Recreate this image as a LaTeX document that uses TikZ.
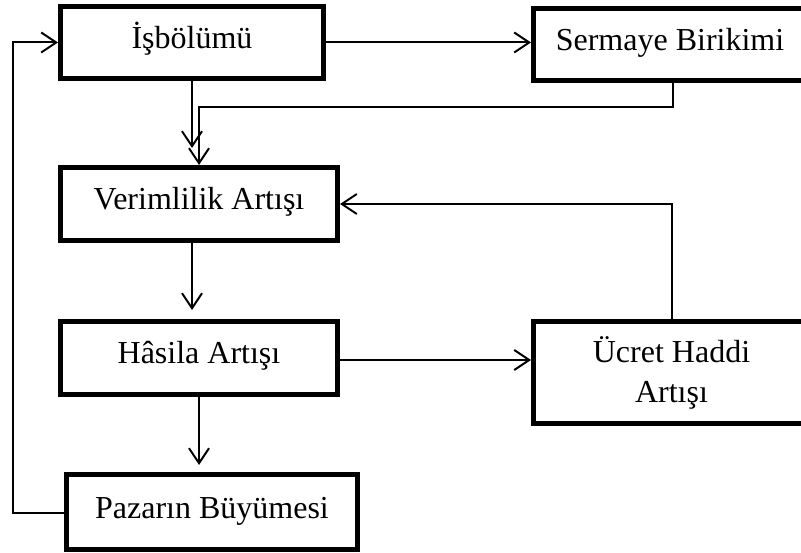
\documentclass[tikz,border=0pt]{standalone}
\usepackage{fontspec}
\setmainfont{Liberation Serif}
\usetikzlibrary{arrows.meta}
\begin{document}
\begin{tikzpicture}[x=1pt,y=-1pt,
  box/.style={draw, line width=5pt, inner sep=0pt, font=\fontsize{32}{40}\selectfont, align=center},
  one/.style={text height=18pt, text depth=6pt},
  conn/.style={line width=2pt},
  arr/.style={conn, -{Straight Barb[length=15pt,width=20pt,line width=2pt]}}]
\useasboundingbox (0,0) rectangle (801,553);
\clip (0,0) rectangle (801,553);
\node[box, one, minimum width=263pt, minimum height=72pt] (isb) at (192,42.5) {İşbölümü};
\node[box, one, minimum width=273pt, minimum height=72pt] (serm) at (670,44.5) {Sermaye Birikimi};
\node[box, one, minimum width=277pt, minimum height=73pt] (verim) at (199,204) {Verimlilik Artışı};
\node[box, one, minimum width=277pt, minimum height=73pt] (has) at (199,358) {Hâsila Artışı};
\node[box, minimum width=276pt, minimum height=102pt] (ucr) at (671.5,372.5) {Ücret Haddi\\Artışı};
\node[box, one, minimum width=291pt, minimum height=75pt] (paz) at (212,512) {Pazarın Büyümesi};
\coordinate (t1) at (192,148);
\coordinate (j1) at (199,107);
\coordinate (t2) at (192,310);
\coordinate (t3) at (199,465);
\coordinate (c1) at (13,513);
\draw[arr] (isb.east) -- (isb.east -| serm.west);
\draw[arr] (isb.south -| t1) -- (t1);
\draw[arr] ([xshift=3pt]serm.south) |- (j1) -- (verim.north);
\draw[arr] (ucr.north) |- (verim.east);
\draw[arr] (verim.south -| t2) -- (t2);
\draw[arr] (has.east |- 0,360) -- (ucr.west |- 0,360);
\draw[arr] (has.south -| t3) -- (t3);
\draw[arr] (paz.west |- c1) -- (c1) |- (isb.west);
\end{tikzpicture}
\end{document}
